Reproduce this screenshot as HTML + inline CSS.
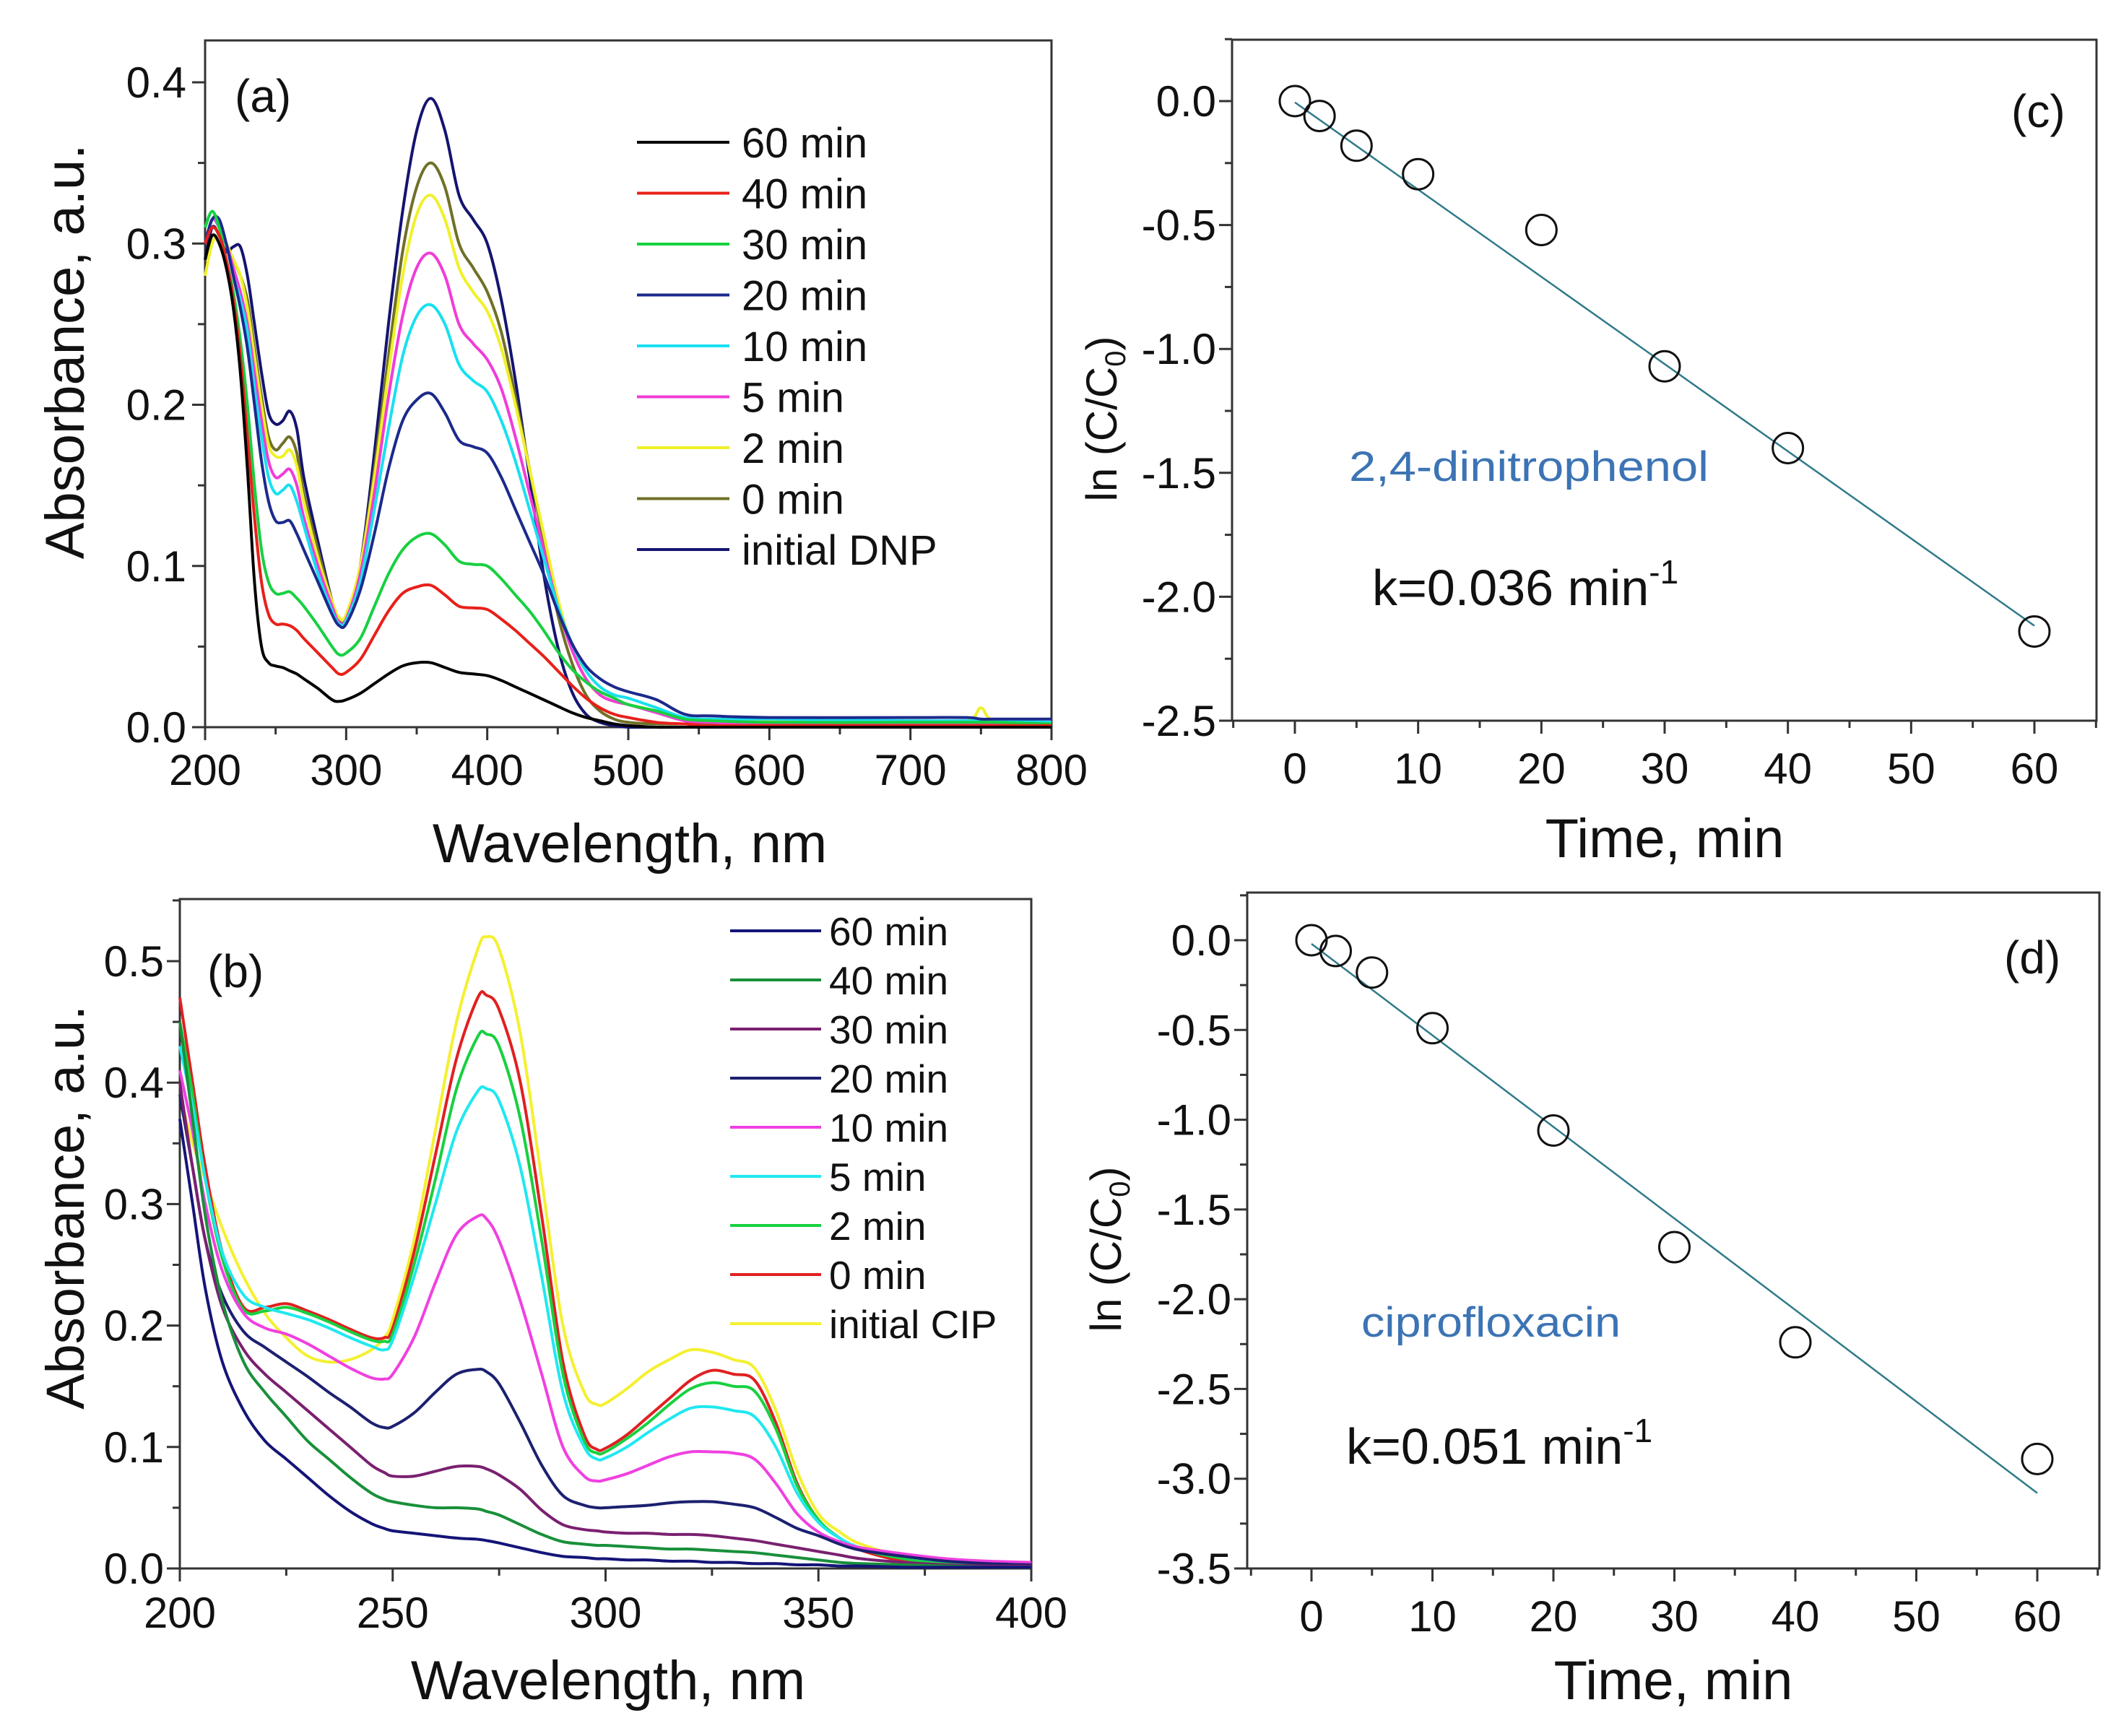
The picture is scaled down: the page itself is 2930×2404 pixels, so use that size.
<!DOCTYPE html>
<html><head><meta charset="utf-8"><style>
body{margin:0;background:#fff}
svg{display:block}
text{font-family:"Liberation Sans",sans-serif;fill:#111}
</style></head><body>
<svg id="fig" xmlns="http://www.w3.org/2000/svg" width="2930" height="2404" viewBox="0 0 2930 2404"></svg>
<script>
// ---------- Panel (a) data ----------
const wlA = [200,205,210,215,220,225,230,235,240,245,250,255,260,265,270,280,290,295,300,310,320,330,340,350,360,370,380,390,400,410,420,430,440,450,460,470,480,490,500,520,540,560,600,700,740,750,760,800];
const aLabels = ["60 min","40 min","30 min","20 min","10 min","5 min","2 min","0 min","initial DNP"];
const aColors = ["#000000","#e8201a","#18d040","#1c2a8c","#18e0f0","#f03cd8","#f0f028","#707028","#141470"];
const a60 = [.29,.305,.30,.285,.26,.22,.16,.09,.05,.04,.038,.037,.035,.033,.03,.024,.017,.016,.017,.021,.027,.033,.038,.04,.04,.037,.034,.033,.032,.029,.025,.021,.017,.013,.009,.006,.004,.002,.001,0,0,0,0,0,0,0,0,0];
const a40 = [.30,.31,.305,.29,.265,.23,.18,.13,.09,.07,.064,.064,.063,.06,.055,.046,.037,.033,.034,.042,.057,.072,.083,.087,.088,.082,.075,.074,.073,.067,.06,.052,.044,.035,.026,.018,.012,.008,.006,.003,.002,.001,.001,.001,.001,.001,.001,.001];
const a30 = [.31,.32,.31,.29,.27,.24,.20,.15,.11,.09,.083,.083,.084,.08,.075,.063,.05,.045,.046,.055,.075,.095,.11,.118,.12,.113,.103,.101,.1,.092,.082,.072,.06,.047,.036,.028,.022,.018,.014,.01,.005,.004,.003,.003,.003,.003,.003,.002];
const a20 = [.30,.315,.315,.30,.28,.26,.235,.20,.165,.14,.128,.127,.128,.12,.11,.09,.07,.063,.064,.085,.12,.16,.19,.203,.207,.195,.178,.174,.17,.155,.135,.115,.095,.072,.052,.038,.03,.025,.022,.017,.008,.007,.006,.006,.006,.005,.005,.005];
const a10 = [.31,.32,.31,.30,.28,.265,.245,.21,.18,.155,.145,.147,.15,.14,.125,.095,.072,.064,.066,.09,.135,.185,.23,.255,.262,.25,.225,.215,.208,.19,.165,.135,.105,.075,.052,.035,.025,.02,.018,.012,.006,.005,.005,.004,.004,.004,.004,.003];
const a5 = [.30,.315,.31,.30,.285,.27,.25,.22,.19,.165,.155,.157,.16,.15,.13,.10,.075,.065,.067,.095,.145,.205,.255,.285,.294,.28,.25,.238,.228,.21,.18,.145,.11,.075,.048,.03,.02,.016,.014,.009,.004,.003,.002,.002,.002,.002,.002,.002];
const a2 = [.28,.30,.305,.30,.29,.28,.26,.23,.20,.175,.168,.168,.172,.162,.14,.105,.078,.068,.07,.10,.155,.22,.28,.318,.33,.315,.285,.27,.258,.235,.2,.16,.12,.08,.05,.03,.02,.016,.014,.01,.005,.004,.004,.004,.004,.012,.004,.003];
const a0 = [.30,.315,.31,.30,.29,.28,.265,.235,.205,.18,.172,.176,.18,.17,.145,.11,.078,.066,.068,.10,.16,.23,.295,.335,.35,.335,.30,.285,.27,.245,.205,.16,.115,.07,.04,.02,.01,.005,.003,.002,.002,.002,.002,.002,.002,.002,.002,.002];
const aInit = [.29,.31,.305,.295,.298,.298,.28,.25,.22,.195,.188,.19,.196,.185,.155,.115,.078,.065,.066,.10,.17,.25,.32,.37,.39,.37,.33,.315,.30,.265,.215,.155,.095,.05,.022,.008,.003,.001,0,0,0,0,0,0,0,0,0,0];
const aSeries = [a60,a40,a30,a20,a10,a5,a2,a0,aInit];
const aXTicks = [200,300,400,500,600,700,800];
const aYTicks = [0.0,0.1,0.2,0.3,0.4];

// ---------- Panel (b) data ----------
const wlB = [200,203,206,210,215,220,225,230,235,240,245,248,250,255,260,265,270,272,275,280,285,290,295,298,300,305,310,315,320,325,330,335,340,345,350,355,360,370,380,390,400];
const bLabels = ["60 min","40 min","30 min","20 min","10 min","5 min","2 min","0 min","initial CIP"];
const bColors = ["#141478","#18903a","#7a2070","#1c2070","#f040e0","#20e8f0","#18d040","#e02020","#f4f030"];
const b60 = [.37,.30,.23,.17,.13,.105,.09,.075,.06,.047,.037,.033,.031,.029,.027,.025,.024,.023,.021,.017,.013,.01,.009,.008,.008,.007,.007,.006,.006,.005,.005,.004,.004,.003,.003,.002,.002,.001,.001,.001,.001];
const b40 = [.45,.37,.29,.22,.17,.145,.125,.105,.09,.075,.062,.057,.055,.052,.05,.05,.049,.047,.044,.036,.028,.022,.02,.019,.019,.018,.017,.016,.016,.015,.014,.013,.011,.009,.007,.005,.004,.003,.002,.001,.001];
const b30 = [.40,.33,.27,.215,.18,.16,.145,.13,.115,.1,.085,.079,.076,.076,.08,.084,.084,.082,.077,.065,.048,.036,.032,.031,.03,.029,.029,.028,.028,.027,.025,.023,.02,.017,.014,.011,.008,.005,.003,.002,.002];
const b20 = [.39,.33,.27,.225,.195,.182,.17,.158,.145,.133,.12,.116,.117,.128,.145,.16,.164,.162,.152,.12,.085,.06,.052,.05,.05,.051,.052,.054,.055,.055,.053,.05,.042,.033,.027,.02,.015,.01,.006,.004,.003];
const b10 = [.41,.36,.30,.245,.21,.198,.193,.185,.175,.165,.157,.156,.16,.19,.235,.275,.29,.288,.27,.22,.16,.1,.076,.072,.073,.078,.085,.092,.096,.096,.095,.09,.07,.045,.03,.022,.017,.012,.008,.006,.005];
const b5 = [.43,.38,.32,.26,.225,.215,.21,.205,.198,.19,.183,.18,.188,.24,.30,.36,.393,.395,.385,.33,.24,.145,.1,.09,.091,.1,.112,.123,.132,.133,.13,.125,.1,.062,.038,.025,.017,.01,.006,.004,.003];
const b2 = [.45,.39,.32,.255,.213,.212,.215,.21,.203,.195,.188,.187,.193,.25,.32,.395,.438,.44,.43,.37,.27,.16,.105,.095,.096,.107,.12,.135,.148,.153,.15,.146,.115,.068,.04,.025,.016,.008,.004,.003,.003];
const b0 = [.47,.40,.33,.26,.215,.215,.218,.212,.205,.197,.19,.19,.198,.26,.34,.42,.47,.472,.46,.40,.29,.17,.11,.098,.099,.11,.125,.14,.155,.163,.16,.155,.12,.07,.04,.025,.015,.006,.003,.002,.002];
const bInit = [.39,.35,.32,.28,.24,.21,.19,.175,.17,.172,.18,.19,.205,.27,.36,.45,.51,.52,.51,.44,.32,.2,.145,.135,.136,.148,.162,.172,.18,.178,.172,.165,.13,.08,.045,.03,.02,.01,.005,.003,.002];
const bSeries = [b60,b40,b30,b20,b10,b5,b2,b0,bInit];
const bXTicks = [200,250,300,350,400];
const bYTicks = [0.0,0.1,0.2,0.3,0.4,0.5];

// ---------- Panels (c) and (d) data ----------
const times = [0,2,5,10,20,30,40,60];
const lnDNP = [0,-0.06,-0.18,-0.295,-0.52,-1.07,-1.40,-2.14];
const fitDNP = [-0.005,-0.0352];
const lnCIP = [0,-0.06,-0.18,-0.49,-1.06,-1.71,-2.24,-2.89];
const fitCIP = [-0.02,-0.051];
const tXTicks = [0,10,20,30,40,50,60];
const cYTicks = [0.0,-0.5,-1.0,-1.5,-2.0,-2.5];
const dYTicks = [0.0,-0.5,-1.0,-1.5,-2.0,-2.5,-3.0,-3.5];

const NS="http://www.w3.org/2000/svg";
const svg=document.getElementById('fig');
function mk(tag,attrs,parent){const e=document.createElementNS(NS,tag);for(const k in attrs)e.setAttribute(k,attrs[k]);(parent||svg).appendChild(e);return e;}
function lin(d0,d1,r0,r1){return v=>r0+(v-d0)*(r1-r0)/(d1-d0);}
function smooth(pts){let d='M'+pts[0][0].toFixed(1)+','+pts[0][1].toFixed(1);
 for(let i=0;i<pts.length-1;i++){const p0=pts[Math.max(0,i-1)],p1=pts[i],p2=pts[i+1],p3=pts[Math.min(pts.length-1,i+2)];
  const c1=[p1[0]+(p2[0]-p0[0])/6,p1[1]+(p2[1]-p0[1])/6],c2=[p2[0]-(p3[0]-p1[0])/6,p2[1]-(p3[1]-p1[1])/6];
  d+='C'+c1[0].toFixed(1)+','+c1[1].toFixed(1)+' '+c2[0].toFixed(1)+','+c2[1].toFixed(1)+' '+p2[0].toFixed(1)+','+p2[1].toFixed(1);}
 return d;}

function axes(g,P,xs,ys,xTicks,yTicks,xMinor,yMinor,fmtY,xLabBase,yLabRight){
 const frame=mk('rect',{x:P.l,y:P.t,width:P.r-P.l,height:P.b-P.t,fill:'none',stroke:'#333',"stroke-width":3},g);
 
 
 xTicks.forEach(v=>{const x=xs(v);
  const t=mk('line',{x1:x,x2:x,y1:P.b,y2:P.b+18,stroke:'#333',"stroke-width":3},g);
  
  
  const tx=mk('text',{x:x,y:xLabBase,"text-anchor":'middle',"font-size":60},g);tx.textContent=String(v);
  
  });
 xMinor.forEach(v=>{const x=xs(v);const t=mk('line',{x1:x,x2:x,y1:P.b,y2:P.b+10,stroke:'#333',"stroke-width":3},g);
  
  });
 yTicks.forEach(v=>{const y=ys(v);
  const t=mk('line',{x1:P.l-18,x2:P.l,y1:y,y2:y,stroke:'#333',"stroke-width":3},g);
  
  
  const tx=mk('text',{x:yLabRight,y:y+21,"text-anchor":'end',"font-size":60},g);tx.textContent=fmtY(v);
  
  });
 yMinor.forEach(v=>{const y=ys(v);const t=mk('line',{x1:P.l-10,x2:P.l,y1:y,y2:y,stroke:'#333',"stroke-width":3},g);
  
  });
}
function range(a,b,s){const r=[];for(let v=a;v<=b+1e-9;v+=s)r.push(+v.toFixed(4));return r;}
function txt(g,x,y,s,size,opts){const t=mk('text',Object.assign({x:x,y:y,"font-size":size},opts||{}),g);t.textContent=s;return t;}

// ===== Panel (a) =====
(function(){
 const g=mk('g',{});
 const P={l:284,r:1456,t:56,b:1007};
 const xs=lin(200,800,P.l,P.r), ys=lin(0,0.4,1007,114);
 axes(g,P,xs,ys,aXTicks,aYTicks,range(250,750,100),range(0.05,0.4,0.1),v=>v.toFixed(1),1087,258);
 for(let i=aSeries.length-1;i>=0;i--){
  const p=mk('path',{d:smooth(wlA.map((w,j)=>[xs(w),ys(aSeries[i][j])])),fill:'none',stroke:aColors[i],"stroke-width":4},g);
  
  
 }
 aLabels.forEach((lab,i)=>{const y=197+i*70.5;
  const l=mk('line',{x1:882,x2:1010,y1:y,y2:y,stroke:aColors[i],"stroke-width":4},g);
  
  
  const t=txt(g,1027,y+21,lab,58);
  
  });
 const pl=txt(g,325,155,'(a)',64);
 const xt=txt(g,872,1194,'Wavelength, nm',76,{"text-anchor":'middle'});
 const yt=txt(g,0,0,'Absorbance, a.u.',76,{"text-anchor":'middle',transform:'translate(116,487) rotate(-90)'});
})();

// ===== Panel (b) =====
(function(){
 const g=mk('g',{});
 const P={l:249,r:1428,t:1245,b:2172};
 const xs=lin(200,400,P.l,P.r), ys=lin(0,0.5,2172,1331);
 axes(g,P,xs,ys,bXTicks,bYTicks,range(225,375,50),range(0.05,0.55,0.1),v=>v.toFixed(1),2254,227);
 for(let i=bSeries.length-1;i>=0;i--){
  const p=mk('path',{d:smooth(wlB.map((w,j)=>[xs(w),ys(bSeries[i][j])])),fill:'none',stroke:bColors[i],"stroke-width":4},g);
  
  
 }
 bLabels.forEach((lab,i)=>{const y=1289+i*68;
  const l=mk('line',{x1:1011,x2:1137,y1:y,y2:y,stroke:bColors[i],"stroke-width":4},g);
  
  
  const t=txt(g,1148,y+20,lab,55);
  
  });
 const pl=txt(g,287,1367,'(b)',64);
 const xt=txt(g,842,2353,'Wavelength, nm',76,{"text-anchor":'middle'});
 const yt=txt(g,0,0,'Absorbance, a.u.',74,{"text-anchor":'middle',transform:'translate(116,1672) rotate(-90)'});
})();

// ===== Kinetic panels =====
function kinetic(P,x0,x60,y0,yBot,yBotVal,yTicks,yMinor,vals,fit,name,lab,labPos,comp,compPos,kTxt,kPos,xtPos,ytPos){
 const g=mk('g',{});
 const xs=lin(0,60,x0,x60), ys=lin(0,yBotVal,y0,yBot);
 axes(g,P,xs,ys,tXTicks,yTicks,range(-5,65,10),yMinor,v=>v.toFixed(1),P.b+87,P.l-22);
 const fl=mk('line',{x1:xs(0),y1:ys(fit[0]),x2:xs(60),y2:ys(fit[0]+fit[1]*60),stroke:'#2f7a8a',"stroke-width":2.5},g);
 
 
 times.forEach((t,i)=>{const c=mk('circle',{cx:xs(t),cy:ys(vals[i]),r:21,fill:'none',stroke:'#111',"stroke-width":3},g);
  
  });
 const pl=txt(g,labPos[0],labPos[1],lab,64);
 const ct=txt(g,compPos[0],compPos[1],comp,compPos[3],{style:'fill:#3c74b4',textLength:compPos[2],lengthAdjust:'spacingAndGlyphs'});
 
 const kt=mk('text',{x:kPos[0],y:kPos[1],"font-size":70},g);
 
 kt.appendChild(document.createTextNode(kTxt+' min'));
 const sup=mk('tspan',{dy:-30,"font-size":46},kt);sup.textContent='-1';
 const xt=txt(g,xtPos[0],xtPos[1],'Time, min',76,{"text-anchor":'middle'});
 const yt=mk('text',{x:0,y:0,"font-size":60,"text-anchor":'middle',transform:'translate('+ytPos[0]+','+ytPos[1]+') rotate(-90)'},g);
 
 yt.appendChild(document.createTextNode('ln (C/C'));
 const sub=mk('tspan',{dy:12,"font-size":40},yt);sub.textContent='0';
 const cl=mk('tspan',{dy:-12},yt);cl.textContent=')';
}
kinetic({l:1706,r:2903,t:55,b:998},1793,2817,140,998,-2.5,cYTicks,range(-2.25,0.25,0.5),lnDNP,fitDNP,
 'panel-c-dnp-kinetics','(c)',[2785,176],'2,4-dinitrophenol',[1868,666,498,58],'k=0.036',[1900,838],[2305,1187],[1546,580]);
kinetic({l:1727,r:2907,t:1236,b:2172},1816,2821,1302,2172,-3.5,dYTicks,range(-3.25,0.25,0.5),lnCIP,fitCIP,
 'panel-d-cip-kinetics','(d)',[2775,1348],'ciprofloxacin',[1885,1851,359,58],'k=0.051',[1864,2027],[2317,2353],[1552,1730]);
</script>
</body></html>
